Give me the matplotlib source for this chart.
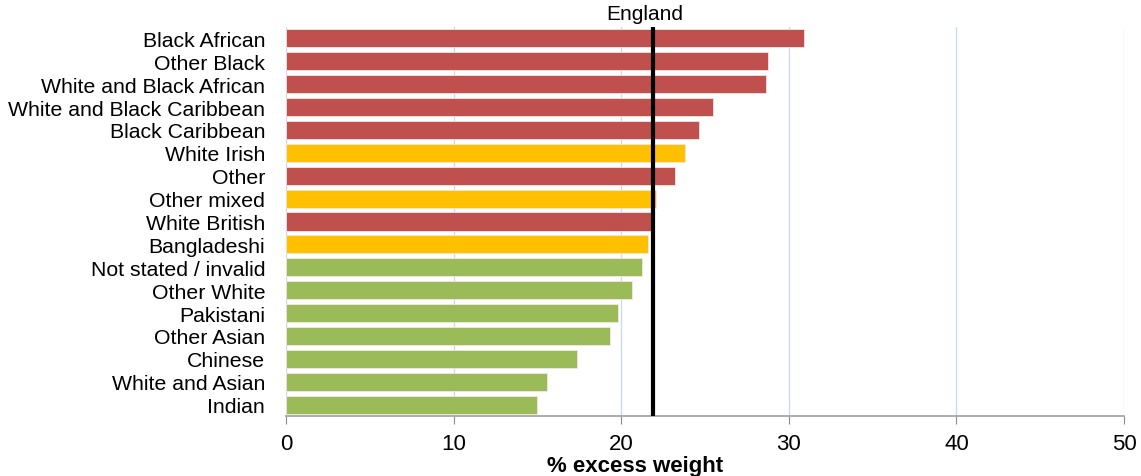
import matplotlib
matplotlib.use("Agg")
import matplotlib.pyplot as plt
from matplotlib.transforms import offset_copy

categories = ["Black African", "Other Black", "White and Black African",
              "White and Black Caribbean", "Black Caribbean", "White Irish",
              "Other", "Other mixed", "White British", "Bangladeshi",
              "Not stated / invalid", "Other White", "Pakistani", "Other Asian",
              "Chinese", "White and Asian", "Indian"]
values = [30.9, 28.75, 28.65, 25.45, 24.65, 23.8, 23.2, 22.05, 21.85, 21.6,
          21.25, 20.65, 19.8, 19.35, 17.35, 15.6, 14.95]
groups = ["high", "high", "high", "high", "high", "mid", "high", "mid", "high", "mid",
          "low", "low", "low", "low", "low", "low", "low"]
england = 21.9
xticks = [0, 10, 20, 30, 40, 50]

colors = {"high": "#C0504D", "mid": "#FFC000", "low": "#9BBB59"}

plt.rcParams['font.family'] = ['Liberation Sans', 'DejaVu Sans']

fig = plt.figure(figsize=(11.41, 4.77), dpi=100)
ax = fig.add_axes([286/1141, 1 - 417/477, (1124-286)/1141, (417-28)/477])

y = list(range(len(categories)))
ax.barh(y, values, height=0.79, color=[colors[g] for g in groups],
        edgecolor="#f4e6e6", linewidth=0.6, zorder=2)
ax.axvline(england, color="black", linewidth=3, zorder=3)
ax.text(england, 1.0, "England", ha="center", va="bottom", fontsize=15,
        transform=offset_copy(ax.get_xaxis_transform(), fig=fig, x=-8, y=4, units='dots'))

ax.set_ylim(len(categories) - 0.5, -0.5)
ax.set_xlim(0, 50)
ax.set_yticks(y)
ax.set_yticklabels(categories, fontsize=15.3)
ax.set_xticks(xticks)
ax.set_xticklabels([str(t) for t in xticks], fontsize=16)
ax.tick_params(axis='y', length=0, pad=15)
ax.tick_params(axis='x', length=6, color="#8c8c8c", pad=6, direction="out")
ax.grid(axis='x', color="#c6d9f1", linewidth=0.9, zorder=0)
for s in ["top", "right", "left"]:
    ax.spines[s].set_visible(False)
ax.spines["bottom"].set_color("#a0a0a0")
ax.spines["bottom"].set_linewidth(1.2)
ax.set_xlabel("% excess weight", fontsize=16, fontweight="bold", labelpad=-3)
ax.xaxis.set_label_coords((635-286)/838, -0.1)

fig.savefig("out.png", dpi=100)
